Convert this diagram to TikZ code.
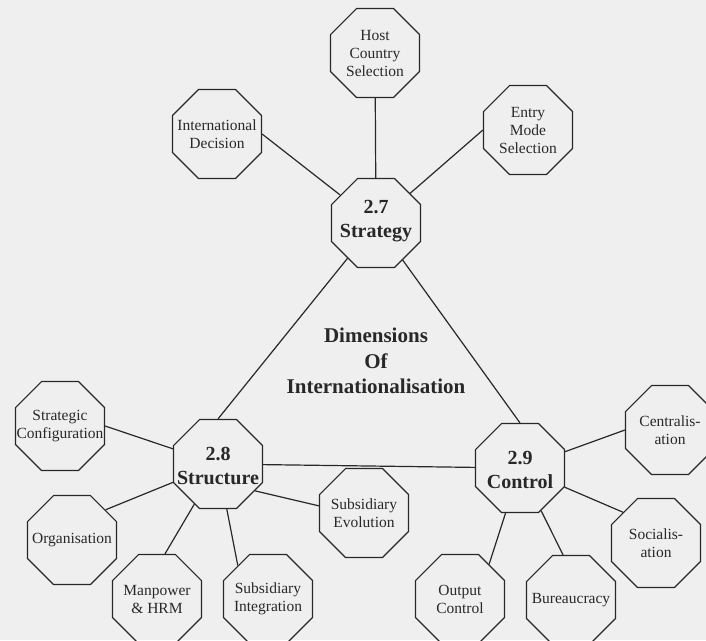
\documentclass[tikz,border=0pt]{standalone}
\usepackage{fontspec}
\setmainfont{Liberation Serif}
\usetikzlibrary{shapes.geometric}

\definecolor{paper}{RGB}{239,239,239}
\definecolor{ink}{RGB}{40,40,40}

\tikzset{
  oct/.style={regular polygon, regular polygon sides=8, minimum size=96.3pt,
              inner sep=0pt, draw=ink, line width=1.2pt},
  sattext/.style={align=center, font=\fontsize{15.5}{18}\selectfont, text=ink, inner sep=0pt},
  hubtext/.style={align=center, font=\fontsize{20}{24}\selectfont\bfseries, text=ink, inner sep=0pt},
  titletext/.style={align=center, font=\fontsize{21}{25.5}\selectfont\bfseries, text=ink, inner sep=0pt},
  link/.style={draw=ink, line width=1.2pt},
}

\begin{document}
\begin{tikzpicture}[x=1pt,y=-1pt]
\fill[paper] (0,0) rectangle (706,640);
\useasboundingbox (0,0) rectangle (706,640);

% the three dimensions
\node[oct] (strategy)  at (376,223) {};
\node[oct] (structure) at (218,464) {};
\node[oct] (control)   at (520,468) {};
\node[hubtext] (strategyT)  at (376,221) {2.7\\Strategy};
\node[hubtext] (structureT) at (218,466) {2.8\\Structure};
\node[hubtext] (controlT)   at (520,470) {2.9\\Control};

\node[titletext] (title) at (376,361) {Dimensions\\Of\\Internationalisation};

% strategy topics
\node[oct] (host)  at (375,53)  {};
\node[oct] (intl)  at (217,134) {};
\node[oct] (entry) at (528,130) {};
\node[sattext] (hostT)  at (375,53)  {Host\\Country\\Selection};
\node[sattext] (intlT)  at (217,134) {International\\Decision};
\node[sattext] (entryT) at (528,130) {Entry\\Mode\\Selection};

% structure topics
\node[oct] (config)   at (60,426)  {};
\node[oct] (org)      at (72,540)  {};
\node[oct] (manpower) at (157,599) {};
\node[oct] (integ)    at (268,599) {};
\node[oct] (evol)     at (364,513) {};
\node[sattext] (configT)   at (60,426)  {Strategic\\Configuration};
\node[sattext] (orgT)      at (72,540)  {Organisation};
\node[sattext] (manpowerT) at (157,599) {Manpower\\\& HRM};
\node[sattext] (integT)    at (268,599) {Subsidiary\\Integration};
\node[sattext] (evolT)     at (364,513) {Subsidiary\\Evolution};

% control topics
\node[oct] (central) at (670,430) {};
\node[oct] (social)  at (656,543) {};
\node[oct] (output)  at (460,599) {};
\node[oct] (bureau)  at (571,600) {};
\node[sattext] (centralT) at (670,430) {Centralis-\\ation};
\node[sattext] (socialT)  at (656,543) {Socialis-\\ation};
\node[sattext] (outputT)  at (460,599) {Output\\Control};
\node[sattext] (bureauT)  at (571,600) {Bureaucracy};

% triangle between the dimensions
\draw[link] (strategy) -- (structure.north);
\draw[link] (strategy) -- (control.north);
\draw[link] (structure) -- (control);

% spokes
\draw[link] (intl.east) -- (strategy);
\draw[link] (host) -- (strategy);
\draw[link] (entry.west) -- (strategy);

\draw[link] (config.east) -- (structure);
\draw[link] (org.42) -- (structure);
\draw[link] (manpower.80) -- (structure);
\draw[link] (integ.132) -- (structure);
\draw[link] (structure.-36) -- (evol.171);

\draw[link] (central.west) -- (control);
\draw[link] (social.137) -- (control);
\draw[link] (output.50) -- (control);
\draw[link] (bureau.100) -- (control);
\end{tikzpicture}
\end{document}
